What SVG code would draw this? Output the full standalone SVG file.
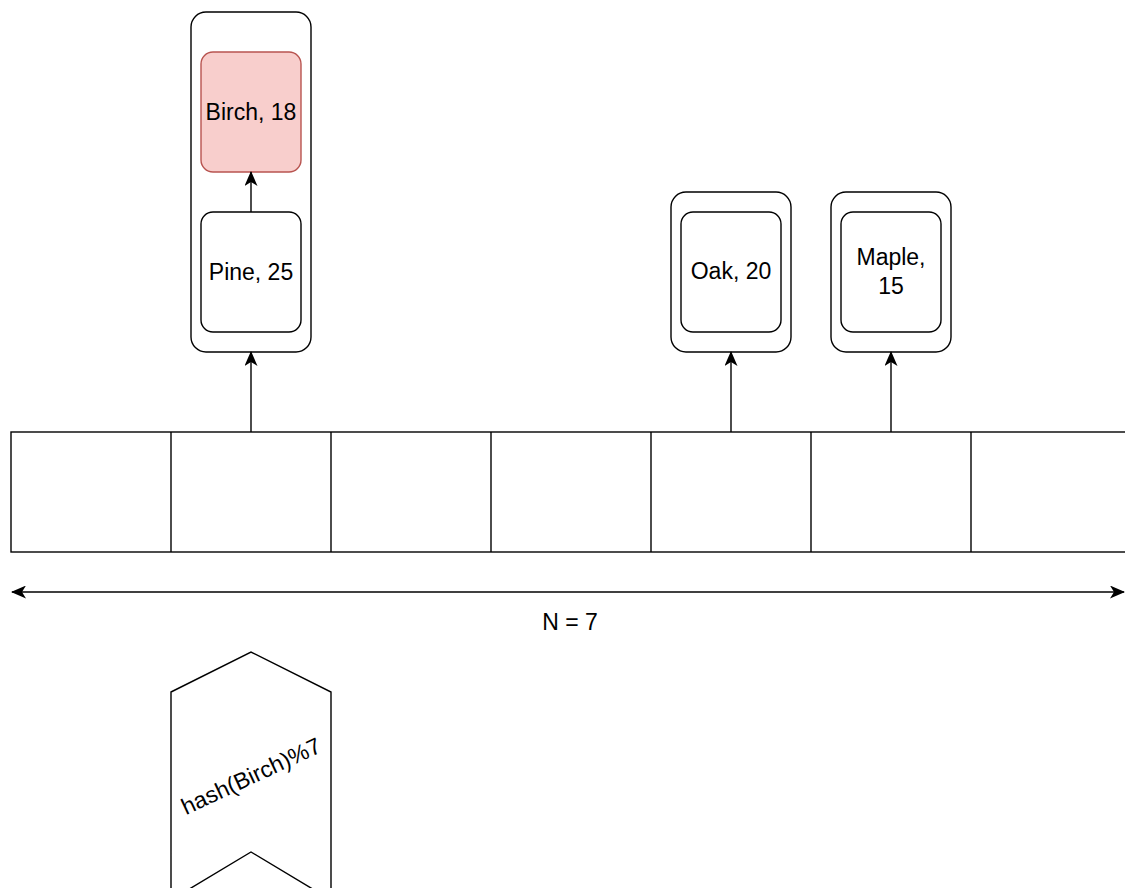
<svg xmlns="http://www.w3.org/2000/svg" width="1125" height="888" viewBox="0 0 1125 888">
<style>
.box{fill:#fff;stroke:#000;stroke-width:1.4}
.red{fill:#f8cecc;stroke:#b85450;stroke-width:1.4}
.ln{fill:none;stroke:#000;stroke-width:1.4}
text{font-family:"Liberation Sans",Arial,sans-serif;font-size:23px;fill:#000;text-anchor:middle}
</style>
<defs>
<marker id="ah" viewBox="0 0 15 13" refX="14" refY="6.5" markerWidth="15" markerHeight="13" markerUnits="userSpaceOnUse" orient="auto-start-reverse">
<path d="M0,0 L15,6.5 L0,13 L4,6.5 z" fill="#000"/>
</marker>
</defs>
<rect width="1125" height="888" fill="#fff"/>
<g id="array">
<rect class="box" x="11" y="432" width="1120" height="120"/>
<line class="ln" x1="171" y1="432" x2="171" y2="552"/>
<line class="ln" x1="331" y1="432" x2="331" y2="552"/>
<line class="ln" x1="491" y1="432" x2="491" y2="552"/>
<line class="ln" x1="651" y1="432" x2="651" y2="552"/>
<line class="ln" x1="811" y1="432" x2="811" y2="552"/>
<line class="ln" x1="971" y1="432" x2="971" y2="552"/>
</g>
<g id="bucket1">
<rect class="box" x="191" y="12" width="120" height="340" rx="15"/>
</g>
<g id="birch">
<rect class="red" x="201" y="52" width="100" height="120" rx="12"/>
<text x="251" y="120">Birch, 18</text>
</g>
<g id="pine">
<rect class="box" x="201" y="212" width="100" height="120" rx="12"/>
<text x="251" y="280">Pine, 25</text>
</g>
<g id="bucket4">
<rect class="box" x="671" y="192" width="120" height="160" rx="15"/>
</g>
<g id="oak">
<rect class="box" x="681" y="212" width="100" height="120" rx="12"/>
<text x="731" y="279">Oak, 20</text>
</g>
<g id="bucket5">
<rect class="box" x="831" y="192" width="120" height="160" rx="15"/>
</g>
<g id="maple">
<rect class="box" x="841" y="212" width="100" height="120" rx="12"/>
<text x="891" y="265">Maple,</text>
<text x="891" y="294">15</text>
</g>
<g id="nlabel">
<text x="570" y="630">N = 7</text>
</g>
<g id="hash">
<polygon class="box" points="171,692 251,652 331,692 331,900 251,852 171,900"/>
<text x="251" y="784" transform="rotate(-25 251 776)">hash(Birch)%7</text>
</g>
<g id="connectors">
<line class="ln" x1="251" y1="432" x2="251" y2="352" marker-end="url(#ah)"/>
<line class="ln" x1="731" y1="432" x2="731" y2="352" marker-end="url(#ah)"/>
<line class="ln" x1="891" y1="432" x2="891" y2="352" marker-end="url(#ah)"/>
<line class="ln" x1="251" y1="212" x2="251" y2="172" marker-end="url(#ah)"/>
<line class="ln" x1="12" y1="592" x2="1124" y2="592" marker-start="url(#ah)" marker-end="url(#ah)"/>
</g>
</svg>
